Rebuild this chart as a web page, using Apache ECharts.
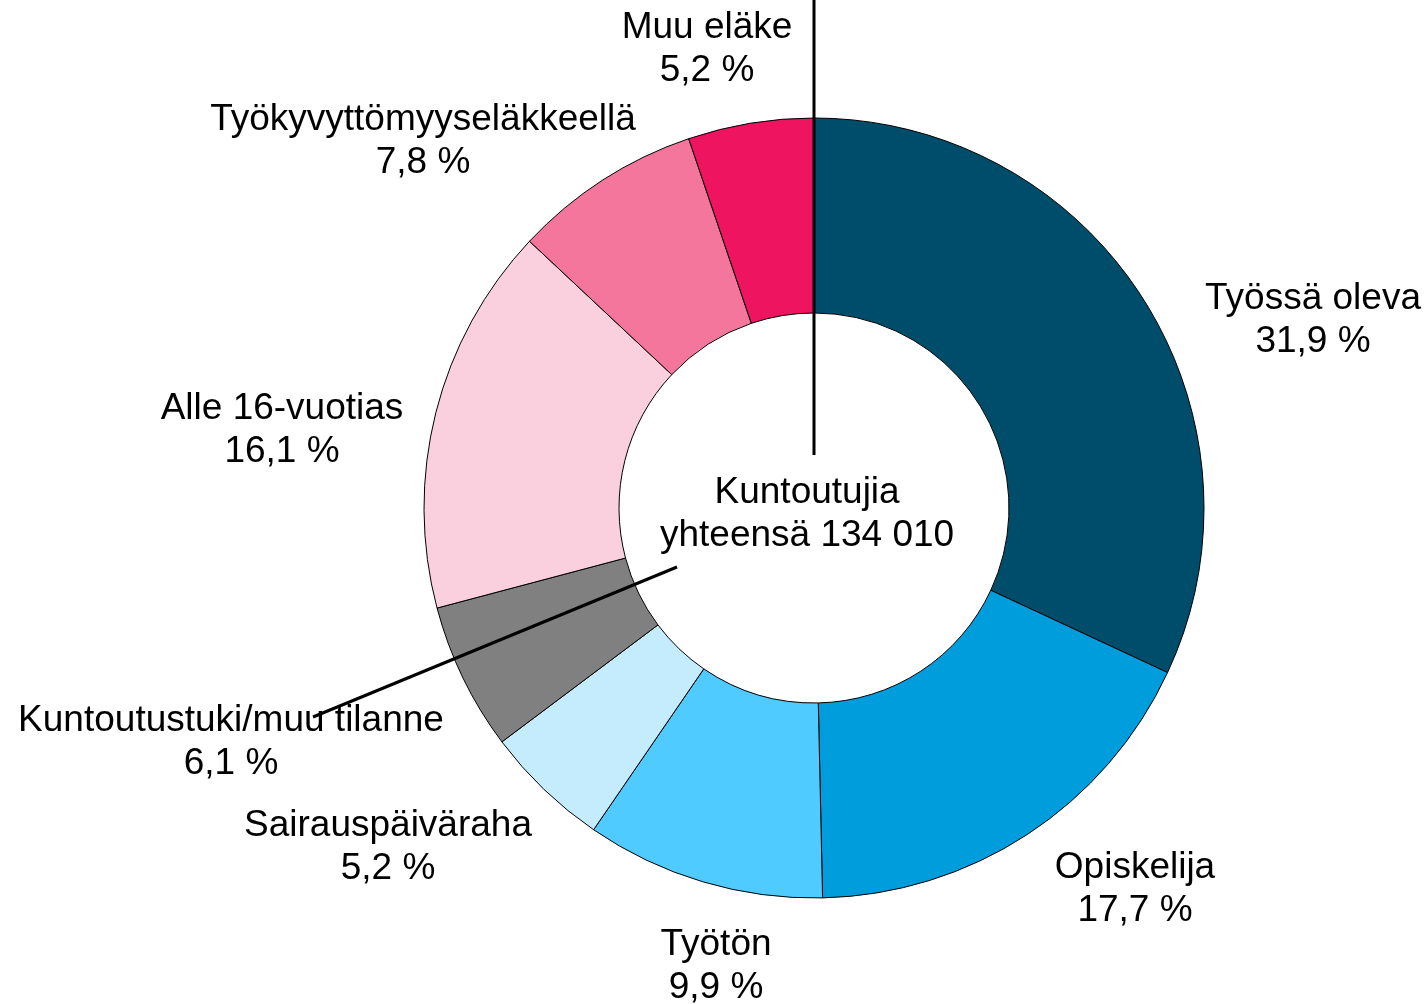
<!DOCTYPE html>
<html>
<head>
<meta charset="utf-8">
<script src="https://cdn.jsdelivr.net/npm/echarts@6/dist/echarts.min.js"></script>
<style>
  html, body { margin: 0; padding: 0; background: #fff; }
  #main { width: 1427px; height: 1004px; }
</style>
</head>
<body>
<div id="main"></div>
<script>
// kuntoutujat pääasiallisen toiminnan mukaan
var categories = ['Työssä oleva', 'Opiskelija', 'Työtön', 'Sairauspäiväraha',
    'Kuntoutustuki/muu tilanne', 'Alle 16-vuotias', 'Työkyvyttömyyseläkkeellä', 'Muu eläke'];
var shares = [31.9, 17.7, 9.9, 5.2, 6.1, 16.1, 7.8, 5.2];
var colors = ['#004d6b', '#009ddc', '#4fcbff', '#c5ecfd', '#808080', '#fad0df', '#f4769c', '#ee1460'];
var totalText = 'Kuntoutujia\nyhteensä 134 010';

// label centres (x, y)
var labelPos = [[1313, 320], [1135, 889], [716, 966], [388, 847],
    [231, 742], [282, 430], [423, 141], [707, 49]];

var myChart = echarts.init(document.getElementById('main'));

var pieData = [];
for (var i = 0; i < categories.length; i++) {
    pieData.push({ name: categories[i], value: shares[i], itemStyle: { color: colors[i] } });
}

var option = {
    backgroundColor: '#fff',
    animation: false,
    textStyle: { fontFamily: '"Liberation Sans", Arial, sans-serif' },
    series: [{
        type: 'pie',
        center: [814, 508],
        radius: [195, 390],
        startAngle: 90,
        clockwise: true,
        silent: true,
        itemStyle: {
            borderColor: '#000',
            borderWidth: 1
        },
        label: {
            show: true,
            position: 'inside',
            color: '#000',
            fontSize: 37,
            lineHeight: 43,
            align: 'center',
            overflow: 'none',
            fontFamily: '"Liberation Sans", Arial, sans-serif',
            formatter: function (p) {
                return p.name + '\n' + String(p.value).replace('.', ',') + ' %';
            }
        },
        labelLine: { show: false },
        labelLayout: function (params) {
            var pos = labelPos[params.dataIndex];
            return { x: pos[0], y: pos[1], align: 'center', verticalAlign: 'middle' };
        },
        data: pieData
    }],
    graphic: [
        {
            type: 'text',
            left: 810 - 150,
            top: 471,
            style: {
                text: totalText,
                x: 150,
                textAlign: 'center',
                fill: '#000',
                font: '37px "Liberation Sans", Arial, sans-serif',
                lineHeight: 43
            },
            z: 10
        },
        {
            type: 'line',
            shape: { x1: 814, y1: 0, x2: 814, y2: 455 },
            style: { stroke: '#000', lineWidth: 3 },
            z: 20
        },
        {
            type: 'line',
            shape: { x1: 677, y1: 567, x2: 313, y2: 717 },
            style: { stroke: '#000', lineWidth: 3 },
            z: 20
        }
    ]
};
myChart.setOption(option);
</script>
</body>
</html>
